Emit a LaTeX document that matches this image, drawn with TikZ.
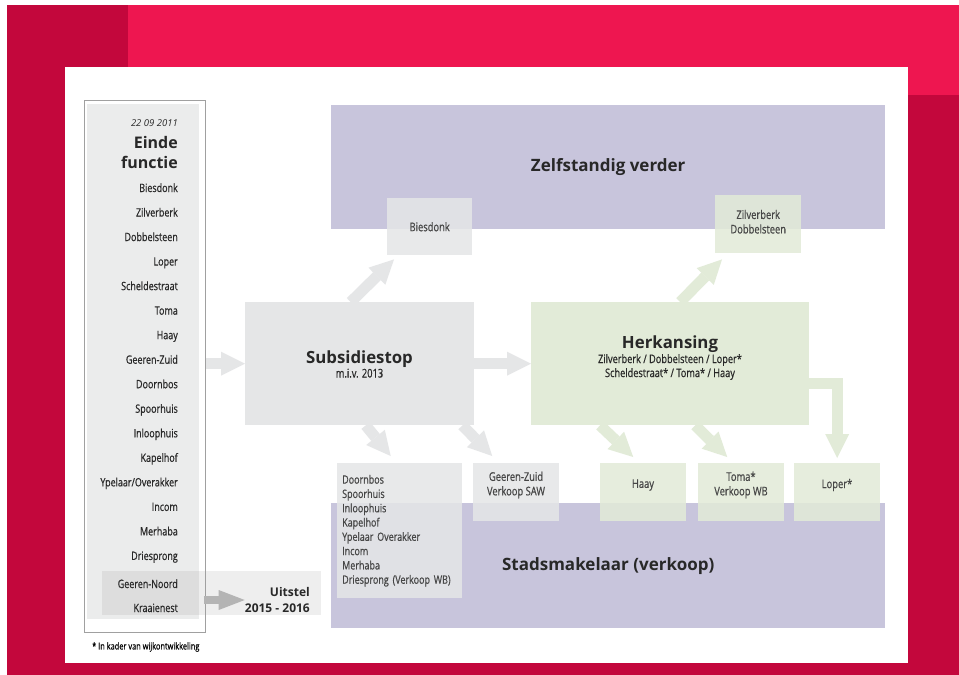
\documentclass[tikz,border=0pt]{standalone}
\usepackage{fontspec}
\setmainfont{Open Sans}
\newfontfamily\narrowfont[FakeStretch=0.78,FakeBold=0.6]{Open Sans}
\usetikzlibrary{arrows.meta,positioning}
\definecolor{frameCrimson}{RGB}{195, 7, 60}
\definecolor{frameRed}{RGB}{238, 22, 80}
\definecolor{bandPurple}{RGB}{200, 197, 220}
\definecolor{boxGray}{RGB}{229, 230, 231}
\definecolor{boxGreen}{RGB}{226, 235, 216}
\definecolor{columnGray}{RGB}{235, 236, 236}
\definecolor{stripGray}{RGB}{238, 238, 238}
\definecolor{stripDark}{RGB}{221, 221, 221}
\definecolor{lineGray}{RGB}{160, 160, 160}
\definecolor{arrowDark}{RGB}{180, 180, 180}
\definecolor{textDark}{RGB}{40, 40, 40}
\definecolor{textMid}{RGB}{70, 70, 70}

\begin{document}
\begin{tikzpicture}[
  x=1pt, y=-1pt,
  every node/.style={inner sep=0pt, text=textDark},
  band/.style={fill=bandPurple, anchor=north west, font=\bfseries\fontsize{17}{20}\selectfont},
  stage/.style={anchor=north west},
  smallbox/.style={anchor=north west, fill opacity=0.85, text opacity=1},
  stagetitle/.style={anchor=base, font=\bfseries\fontsize{16.8}{20}\selectfont},
  boxtext/.style={align=center, text=textMid, font=\narrowfont\fontsize{12}{14.5}\selectfont},
  item/.style={anchor=base east, font=\narrowfont\fontsize{11.5}{13}\selectfont},
  fatarrow/.style={line width=11pt, -{Triangle[length=24pt,width=24pt,line width=0pt]}},
  grayarrow/.style={fatarrow, draw=boxGray},
  greenarrow/.style={fatarrow, draw=boxGreen}
]
% page and red frame
\useasboundingbox (0,0) rectangle (959,675);
\fill[white] (0,0) rectangle (959,675);
\fill[frameCrimson] (7,5) rectangle (959,675);
\fill[frameRed] (128,5) rectangle (959,67);
\fill[frameRed] (908,67) rectangle (959,95);
\fill[white] (65,67) rectangle (908,663);

% left column
\fill[columnGray] (87,104) rectangle (199,619);
\fill[stripGray] (199,571) rectangle (321,615);
\fill[stripDark] (102,571) rectangle (199,615);
\node[draw=lineGray, line width=0.8pt, anchor=north west, minimum width=121pt, minimum height=532pt] (col) at (84,100) {};
\node[anchor=base east, font=\itshape\fontsize{9.5}{11}\selectfont] (date) at (178,126.5) {22 09 2011};
\node[anchor=base east, font=\bfseries\fontsize{16}{17}\selectfont] (einde) at (178,148.5) {Einde};
\node[anchor=base east, font=\bfseries\fontsize{16}{17}\selectfont] (functie) at (178,168.5) {functie};
\foreach \name [count=\i from 0] in {Biesdonk,Zilverberk,Dobbelsteen,Loper,Scheldestraat,Toma,Haay,Geeren-Zuid,Doornbos,Spoorhuis,Inloophuis,Kapelhof,Ypelaar/Overakker,Incom,Merhaba,Driesprong}
  \node[item] (item\i) at (178,192+24.53*\i) {\name};
\node[item] (noord) at (178,588) {Geeren-Noord};
\node[item] (kraai) at (178,612) {Kraaienest};
\node[anchor=east, align=right, font=\bfseries\fontsize{12}{16}\selectfont] (uit) at (310,600) {Uitstel\\2015 - 2016};
\node[anchor=west, text=black, font=\narrowfont\fontsize{9.5}{10}\selectfont] (note) at (92,647) {* In kader van wijkontwikkeling};

% purple bands
\node[band, minimum width=554pt, minimum height=124pt] (zelf) at (331,105) {Zelfstandig verder};
\node[band, minimum width=554pt, minimum height=125pt] (stad) at (331,503) {Stadsmakelaar (verkoop)};

% main stages
\node[stage, fill=boxGray, minimum width=229pt, minimum height=123pt] (subs) at (245,302) {};
\node[stagetitle] (substitle) at (359.5,363) {Subsidiestop};
\node[anchor=base, font=\narrowfont\fontsize{12}{12}\selectfont] (subsdate) at (359.5,377.5) {m.i.v. 2013};
\node[stage, fill=boxGreen, minimum width=278pt, minimum height=123pt] (herk) at (531,302) {};
\node[stagetitle] (herktitle) at (670,348) {Herkansing};
\node[align=center, font=\narrowfont\fontsize{11.8}{14}\selectfont] (herklist) at (670,367) {Zilverberk / Dobbelsteen / Loper*\\Scheldestraat* / Toma* / Haay};

% outcome boxes
\node[smallbox, fill=boxGray, minimum width=85pt, minimum height=57pt, boxtext] (bies) at (387,198) {Biesdonk};
\node[smallbox, fill=boxGreen, minimum width=86pt, minimum height=58pt] (zilv) at (715,195) {};
\node[boxtext] (zilvtext) at ([yshift=2.5pt]zilv.center) {Zilverberk\\Dobbelsteen};
\node[smallbox, fill=boxGray, minimum width=125pt, minimum height=135pt, boxtext, text width=115pt, align=left, font=\narrowfont\fontsize{11.5}{14.3}\selectfont] (dorn) at (337,463) {Doornbos\\Spoorhuis\\Inloophuis\\Kapelhof\\Ypelaar Overakker\\Incom\\Merhaba\\Driesprong (Verkoop WB)};
\node[smallbox, fill=boxGray, minimum width=86pt, minimum height=58pt] (gz) at (473,463) {};
\node[boxtext] (gztext) at (516,485) {Geeren-Zuid\\Verkoop SAW};
\node[smallbox, fill=boxGreen, minimum width=86pt, minimum height=58pt] (haay) at (600,463) {};
\node[boxtext] (haaytext) at (643,485) {Haay};
\node[smallbox, fill=boxGreen, minimum width=86pt, minimum height=58pt] (toma) at (698,463) {};
\node[boxtext] (tomatext) at (741,485) {Toma*\\Verkoop WB};
\node[smallbox, fill=boxGreen, minimum width=86pt, minimum height=58pt] (loper) at (794,463) {};
\node[boxtext] (lopertext) at (837,485) {Loper*};

% arrows
\draw[grayarrow] (col.east |- subs.west) -- (subs.west);
\draw[grayarrow] (subs.east) -- (herk.west);
\draw[grayarrow] ([xshift=-9pt]subs.north) -- ([xshift=7pt,yshift=-4pt]bies.south west);
\draw[grayarrow] ([xshift=6pt]subs.south) -- ([xshift=-9pt,yshift=7pt]dorn.north);
\draw[grayarrow] ([xshift=-12pt]subs.south east) -- ([xshift=-24pt,yshift=7pt]gz.north);
\draw[greenarrow] ([xshift=10pt]herk.north) -- ([xshift=7pt,yshift=-6pt]zilv.south west);
\draw[greenarrow] ([xshift=69pt]herk.south west) -- ([xshift=-10pt,yshift=6pt]haay.north);
\draw[greenarrow] ([xshift=25pt]herk.south) -- ([xshift=-14pt,yshift=6pt]toma.north);
\draw[greenarrow] ([yshift=-19.5pt]herk.east) -| ([yshift=5pt]loper.north);
\draw[line width=8pt, draw=arrowDark, -{Triangle[length=26pt,width=20pt,line width=0pt]}] ([xshift=-2pt]col.east |- uit.west) -- (uit.west);
\end{tikzpicture}
\end{document}
